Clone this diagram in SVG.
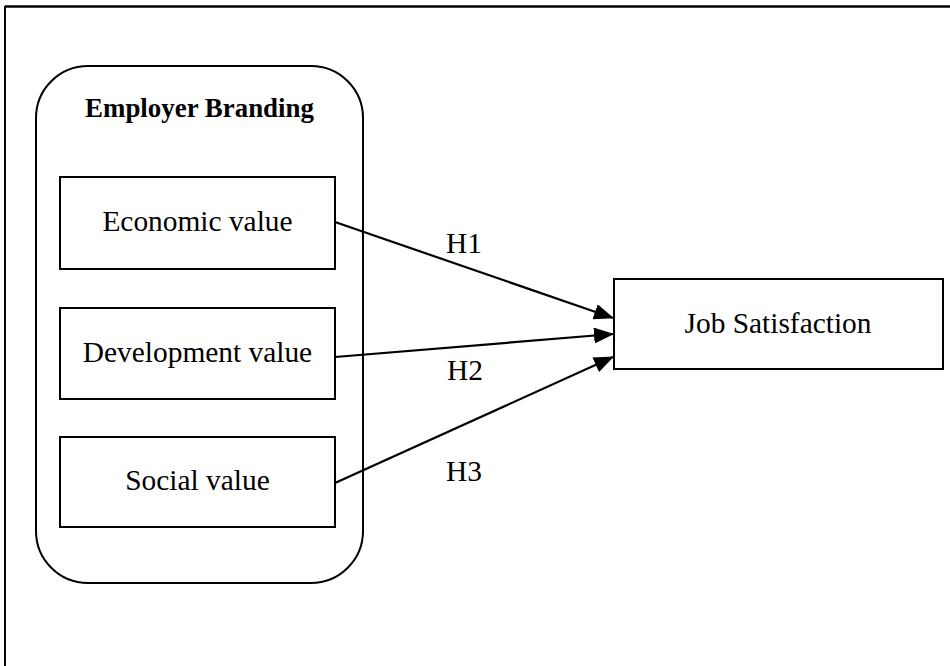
<svg xmlns="http://www.w3.org/2000/svg" width="950" height="666" viewBox="0 0 950 666">
<style>
.box{fill:#fff;stroke:#000;stroke-width:2}
.t{font-family:"Liberation Serif","Times New Roman",serif;font-size:29.4px;fill:#000;text-anchor:middle}
.b{font-weight:bold;font-size:26.9px}
.c{stroke:#000;stroke-width:2.2;fill:none}
</style>
<defs>
<marker id="ah" markerUnits="userSpaceOnUse" markerWidth="20" markerHeight="16" viewBox="0 0 20 16" refX="19" refY="8" orient="auto">
<path d="M0,0 L20,8 L0,16 Z" fill="#000"/>
</marker>
</defs>
<rect width="950" height="666" fill="#fff"/>
<g id="frame">
<line x1="5" y1="6.5" x2="950" y2="6.5" stroke="#000" stroke-width="2.6"/>
<line x1="5" y1="6" x2="5" y2="666" stroke="#000" stroke-width="2"/>
</g>
<g id="employer-branding">
<rect class="box" x="36" y="66" width="327" height="517" rx="52" ry="52"/>
<text class="t b" x="199.5" y="117">Employer Branding</text>
</g>
<g id="economic-value">
<rect class="box" x="60" y="177" width="275" height="92"/>
<text class="t" x="197.5" y="231">Economic value</text>
</g>
<g id="development-value">
<rect class="box" x="60" y="308" width="275" height="91"/>
<text class="t" x="197.5" y="362">Development value</text>
</g>
<g id="social-value">
<rect class="box" x="60" y="437" width="275" height="90"/>
<text class="t" x="197.5" y="490">Social value</text>
</g>
<g id="job-satisfaction">
<rect class="box" x="614" y="279" width="329" height="90"/>
<text class="t" x="778" y="333">Job Satisfaction</text>
</g>
<g id="connectors">
<line class="c" x1="335" y1="222" x2="613" y2="318" marker-end="url(#ah)"/>
<line class="c" x1="335" y1="357" x2="613" y2="334" marker-end="url(#ah)"/>
<line class="c" x1="335" y1="483" x2="613" y2="357" marker-end="url(#ah)"/>
<text class="t" x="464" y="253">H1</text>
<text class="t" x="465" y="380">H2</text>
<text class="t" x="464" y="481">H3</text>
</g>
</svg>
